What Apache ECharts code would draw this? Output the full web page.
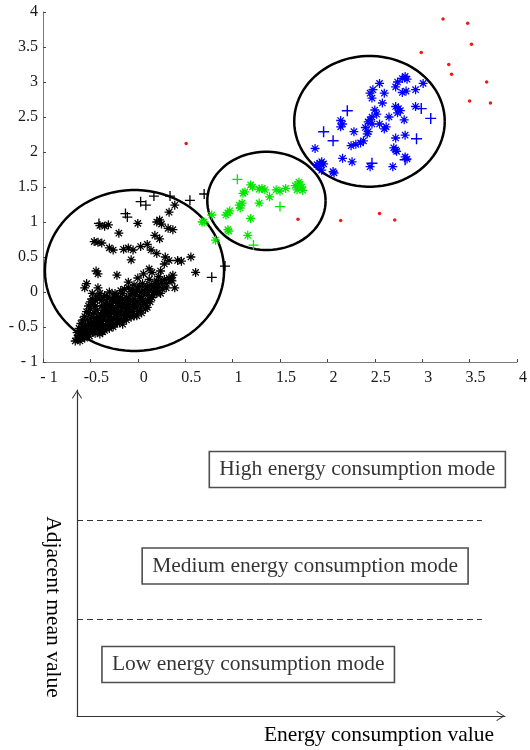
<!DOCTYPE html>
<html lang="en">
<head>
<meta charset="UTF-8" />
<title>energy consumption modes</title>
<script src="https://cdn.jsdelivr.net/npm/echarts@6/dist/echarts.min.js"></script>
<style>
  * { margin: 0; padding: 0; }
  body { background: #fff; }
</style>
</head>
<body>
<div id="main" style="width:530px;height:750px"></div>
<script>
// ---- scatter data ----
var xTickLabels = ["- 1", "-0.5", "0", "0.5", "1", "1.5", "2", "2.5", "3", "3.5", "4"]
var yTickLabels = ["- 1", "- 0.5", "0", "0.5", "1", "1.5", "2", "2.5", "3", "3.5", "4"]

var blackStar = [
  [-0.66,-0.70],[-0.63,-0.68],[-0.60,-0.66],[-0.62,-0.62],[-0.58,-0.64],[-0.55,-0.62],[-0.57,-0.58],[-0.53,-0.60],
  [-0.50,-0.58],[-0.52,-0.54],[-0.58,-0.50],[-0.55,-0.47],[-0.48,-0.52],[-0.46,-0.56],[-0.44,-0.50],[-0.50,-0.45],
  [-0.47,-0.42],[-0.42,-0.47],[-0.40,-0.52],[-0.38,-0.45],[-0.44,-0.38],[-0.41,-0.35],[-0.36,-0.40],[-0.34,-0.48],
  [-0.32,-0.42],[-0.30,-0.36],[-0.37,-0.30],[-0.33,-0.26],[-0.28,-0.30],[-0.26,-0.38],[-0.24,-0.32],[-0.22,-0.26],
  [-0.28,-0.20],[-0.20,-0.20],[-0.18,-0.28],[-0.16,-0.22],[-0.14,-0.16],[-0.20,-0.12],[-0.12,-0.24],[-0.10,-0.18],
  [-0.08,-0.12],[-0.12,-0.08],[-0.06,-0.20],[-0.04,-0.10],[-0.02,-0.04],[-0.06,-0.02],[0.00,-0.14],[0.02,-0.06],
  [0.04,0.00],[0.00,0.04],[0.06,-0.02],[0.08,0.04],[0.10,0.08],[0.12,0.02],[0.14,0.10],[0.16,0.06],
  [0.18,0.12],[0.20,0.16],[0.22,0.10],[0.25,0.14],[0.28,0.18],[0.30,0.12],[0.33,0.20],[0.36,0.16],
  [-0.45,-0.20],[-0.40,-0.10],[-0.35,-0.05],[-0.48,-0.02],[-0.42,0.06],[-0.30,0.00],[-0.25,-0.06],[-0.18,0.02],
  [-0.10,0.06],[-0.52,-0.30],[-0.60,-0.55],[-0.64,-0.58],[-0.35,-0.55],[-0.28,-0.48],[-0.20,-0.40],[-0.14,-0.36],
  [-0.08,-0.30],[0.00,-0.28],[0.06,-0.18],[0.12,-0.10],[0.20,-0.02],[0.26,0.04],[-0.22,-0.44],[-0.16,-0.10],
  [-0.04,0.10],[0.05,0.12],[0.12,0.18],[0.22,0.22],
  [-0.64,-0.66],[-0.61,-0.70],[-0.59,-0.60],[-0.56,-0.66],[-0.54,-0.56],[-0.51,-0.63],[-0.49,-0.55],[-0.47,-0.48],
  [-0.45,-0.59],[-0.43,-0.54],[-0.41,-0.43],[-0.39,-0.56],[-0.37,-0.50],[-0.35,-0.36],[-0.33,-0.52],[-0.31,-0.46],
  [-0.29,-0.40],[-0.27,-0.44],[-0.25,-0.28],[-0.23,-0.38],[-0.21,-0.34],[-0.19,-0.44],[-0.17,-0.32],[-0.15,-0.40],
  [-0.13,-0.30],[-0.11,-0.34],[-0.09,-0.24],[-0.07,-0.36],[-0.05,-0.28],[-0.03,-0.22],[-0.01,-0.34],[0.03,-0.24],
  [0.05,-0.12],[0.09,-0.16],[0.11,-0.04],[0.15,-0.08],[0.17,0.00],[0.21,0.04],[0.24,-0.02],[0.30,0.06],
  [-0.53,-0.40],[-0.49,-0.36],[-0.46,-0.30],[-0.43,-0.26],[-0.38,-0.20],[-0.33,-0.14],[-0.27,-0.10],[-0.22,-0.06],
  [-0.62,-0.52],[-0.60,-0.45],[-0.58,-0.40],[-0.56,-0.35],[-0.54,-0.28],[-0.52,-0.20],[-0.50,-0.14],[-0.48,-0.10],
  [-0.50,-0.24],[-0.47,-0.18],[-0.45,-0.12],[-0.43,-0.06],[-0.40,-0.02],[-0.38,-0.12],[-0.36,-0.24],[-0.34,-0.32],
  [-0.32,-0.08],[-0.30,-0.18],[-0.28,-0.26],[-0.26,-0.14],[-0.24,-0.02],[-0.22,-0.16],[-0.20,-0.28],[-0.18,-0.08],
  [-0.16,-0.02],[-0.14,0.04],[-0.12,-0.12],[-0.10,-0.26],[-0.08,-0.04],[-0.06,0.04],[-0.04,-0.16],[-0.02,0.00],
  [0.00,-0.20],[0.02,0.08],[0.04,-0.10],[0.07,0.00],[0.10,-0.22],[0.13,-0.14],[0.16,-0.04],[0.19,0.06],
  [-0.40,-0.60],[-0.37,-0.57],[-0.30,-0.52],[-0.26,-0.50],[-0.24,-0.46],[-0.16,-0.46],[-0.12,-0.40],[-0.04,-0.34],
  [0.04,-0.30],[0.08,-0.24],[-0.56,-0.52],[-0.52,-0.48],[-0.46,-0.44],[-0.42,-0.40],[-0.39,-0.33],[-0.34,-0.20],
  [-0.31,-0.28],[-0.26,-0.22],[-0.18,-0.16],[-0.13,-0.20],
  // scattered upper part
  [-0.35,0.94],[-0.40,0.95],[-0.31,0.96],[-0.20,0.84],[0.00,0.98],[0.20,1.00],[0.23,1.03],[0.25,0.97],
  [0.33,1.14],[0.39,1.24],[0.32,0.91],[0.37,0.89],[0.18,0.81],[0.23,0.76],[-0.46,0.72],[-0.42,0.71],
  [-0.38,0.70],[-0.30,0.63],[-0.26,0.60],[-0.15,0.61],[-0.10,0.63],[-0.05,0.60],[-0.07,0.46],[0.03,0.65],
  [0.10,0.68],[0.14,0.60],[0.20,0.55],[0.29,0.50],[0.33,0.45],[0.42,0.45],[0.46,0.44],[0.56,0.50],
  [0.61,0.28],[0.37,0.24],[0.35,0.17],[0.39,0.06],[-0.44,0.30],[-0.42,0.26],[-0.22,0.24],[0.12,0.33],
  [0.15,0.28],[-0.54,0.12],[-0.56,0.06],[-0.10,0.14],[0.24,0.30],[0.28,0.40],[0.06,0.26],[0.00,0.20]
]
var blackPlus = [
  [0.03,1.29],[0.085,1.24],[0.17,1.37],[0.34,1.37],[0.55,1.31],[0.70,1.40],
  [-0.13,1.12],[-0.11,1.07],[-0.41,0.98],[0.92,0.37],[0.78,0.21]
]
var greenStar = [
  [1.19,1.53],[1.21,1.50],[1.11,1.41],[1.13,1.43],[1.28,1.47],[1.31,1.48],[1.34,1.46],[1.46,1.46],
  [1.50,1.44],[1.56,1.48],[1.66,1.52],[1.70,1.57],[1.73,1.50],[1.68,1.46],[1.74,1.45],[1.71,1.54],
  [1.39,1.36],[1.28,1.27],[1.07,1.24],[1.10,1.27],[1.08,1.20],[0.95,1.13],[0.93,1.10],[0.97,1.16],
  [1.19,1.05],[0.78,1.10],[0.70,1.00],[0.95,0.89],[0.96,0.87],[1.16,0.81],[0.82,0.74],[0.68,1.00]
]
var greenPlus = [[1.05,1.61],[1.50,1.22],[1.22,0.67]]
var blueStar = [
  [2.82,3.08],[2.84,3.04],[2.79,3.05],[2.74,3.00],[2.72,2.93],[2.55,2.98],[2.48,2.89],[2.45,2.84],
  [2.47,2.77],[2.60,2.84],[2.79,2.85],[2.83,2.87],[2.93,2.89],[3.01,2.98],[2.72,2.65],[2.75,2.62],
  [2.93,2.65],[2.74,2.56],[2.77,2.59],[2.81,2.46],[2.52,2.54],[2.47,2.50],[2.45,2.46],[2.43,2.43],
  [2.47,2.40],[2.62,2.36],[2.60,2.33],[2.14,2.45],[2.16,2.40],[2.14,2.36],[2.28,2.29],[2.43,2.29],
  [2.42,2.26],[2.38,2.16],[2.35,2.13],[2.30,2.11],[2.25,2.09],[2.72,2.20],[2.82,2.24],[2.70,2.06],
  [2.72,2.03],[2.73,2.01],[1.87,2.05],[1.94,1.86],[1.92,1.84],[1.96,1.83],[1.89,1.82],[1.91,1.79],
  [2.16,1.91],[2.26,1.86],[2.07,1.70],[2.45,1.79],[2.69,1.79],[2.82,1.93],[2.84,1.90],[1.94,1.74],
  [2.06,1.72],[2.40,2.35],[2.50,2.60],[2.58,2.70],[2.65,2.50],[2.55,2.40]
]
var bluePlus = [[2.21,2.59],[1.96,2.29],[2.06,2.16],[3.09,2.48],[2.99,2.62],[2.94,2.19],[2.82,1.89],[2.47,1.84]]
var redDots = [
  [3.22,3.90],[3.48,3.84],[3.52,3.54],[2.99,3.42],[3.28,3.25],[3.31,3.11],[3.68,3.00],[3.50,2.73],
  [3.72,2.70],[0.51,2.12],[1.69,1.04],[2.14,1.02],[2.55,1.12],[2.71,1.03]
]
// cluster circles: [centre x, centre y, radius x, radius y]
var clusterEllipses = [
  [-0.035, 0.307, 0.945, 1.15],
  [1.357, 1.302, 0.624, 0.702],
  [2.444, 2.438, 0.794, 0.934]
]

// ---- mode diagram (axes run 0..100) ----
var modeNames = ["High energy consumption mode", "Medium energy consumption mode", "Low energy consumption mode"]
var modeCenters = [[65.5, 75.6], [53.3, 46.0], [40.0, 15.8]]
var modeBounds = [60.1, 29.8]
var modeLineEnd = 94.6

var serif = "Liberation Serif"
var starPath = "path://M0 8.6L20 8.6L20 11.4L0 11.4ZM8.6 0L11.4 0L11.4 20L8.6 20ZM2 4L4 2L18 16L16 18ZM16 2L18 4L4 18L2 16Z"
var plusPath = "path://M0 8.7L20 8.7L20 11.3L0 11.3ZM8.7 0L11.3 0L11.3 20L8.7 20Z"
var arrowPath = "path://M10 0L20 15.6L18.6 16.8L10 3.4L1.4 16.8L0 15.6Z"

function pts(name, data, symbol, size, color) {
  return {
    name: name, type: "scatter", xAxisIndex: 0, yAxisIndex: 0,
    data: data, symbol: symbol, symbolSize: size,
    itemStyle: { color: color, opacity: 1 }, z: 4
  }
}

var myChart = echarts.init(document.getElementById("main"))
var option = {
  animation: false,
  backgroundColor: "#fff",
  grid: [
    { left: 43, top: 12, width: 490, height: 350 },
    { left: 77, top: 390, width: 428, height: 326 }
  ],
  xAxis: [
    {
      gridIndex: 0, type: "value", min: -1, max: 4, interval: 0.5,
      axisLine: { onZero: false, lineStyle: { color: "#7a7a7a", width: 1 } },
      axisTick: { inside: true, length: 3, lineStyle: { color: "#444" } },
      axisLabel: {
        fontFamily: serif, fontSize: 16, color: "#1a1a1a", margin: 8, padding: [0, 0, 0, 12],
        formatter: function (v, i) { return xTickLabels[i] }
      },
      splitLine: { show: false }
    },
    {
      gridIndex: 1, type: "value", min: 0, max: 100,
      axisLine: {
        onZero: false, lineStyle: { color: "#333", width: 1.2 },
        symbol: ["none", arrowPath], symbolSize: [10, 9], symbolOffset: [0, -4.5]
      },
      axisTick: { show: false }, axisLabel: { show: false }, splitLine: { show: false }
    }
  ],
  yAxis: [
    {
      gridIndex: 0, type: "value", min: -1, max: 4, interval: 0.5,
      axisLine: { show: true, onZero: false, lineStyle: { color: "#7a7a7a", width: 1 } },
      axisTick: { show: true, inside: true, length: 3, lineStyle: { color: "#444" } },
      axisLabel: {
        fontFamily: serif, fontSize: 16, color: "#1a1a1a", margin: 5,
        formatter: function (v, i) { return yTickLabels[i] }
      },
      splitLine: { show: false }
    },
    {
      gridIndex: 1, type: "value", min: 0, max: 100,
      axisLine: {
        show: true, onZero: false, lineStyle: { color: "#333", width: 1.2 },
        symbol: ["none", arrowPath], symbolSize: [10, 9], symbolOffset: [0, -4.5]
      },
      axisTick: { show: false }, axisLabel: { show: false }, splitLine: { show: false }
    }
  ],
  series: [
    {
      type: "custom", xAxisIndex: 0, yAxisIndex: 0, z: 3,
      data: clusterEllipses,
      encode: { x: 0, y: 1 },
      renderItem: function (params, api) {
        var cx = api.value(0), cy = api.value(1), rx = api.value(2), ry = api.value(3)
        var ring = []
        for (var k = 0; k <= 90; k++) {
          var t = k / 90 * Math.PI * 2
          ring.push(api.coord([cx + rx * Math.cos(t), cy + ry * Math.sin(t)]))
        }
        return { type: "polyline", shape: { points: ring }, style: { fill: null, stroke: "#000", lineWidth: 2.5 } }
      }
    },
    pts("black *", blackStar, starPath, 9, "#000"),
    pts("black +", blackPlus, plusPath, 10, "#000"),
    pts("green *", greenStar, starPath, 9, "#00e600"),
    pts("green +", greenPlus, plusPath, 10, "#00e600"),
    pts("blue *", blueStar, starPath, 9, "#0000ff"),
    pts("blue +", bluePlus, plusPath, 11, "#0000ff"),
    pts("red", redDots, "circle", 3.5, "#f01818"),
    {
      type: "scatter", xAxisIndex: 1, yAxisIndex: 1,
      symbolSize: 1, itemStyle: { color: "transparent" },
      data: modeNames.map(function (n, i) { return { name: n, value: modeCenters[i] } }),
      label: {
        show: true, position: "inside", formatter: "{b}",
        fontFamily: serif, fontSize: 21.5, color: "#000", lineHeight: 24,
        borderColor: "#222", borderWidth: 1.6, padding: [6, 10, 6, 10]
      },
      markLine: {
        silent: true, symbol: "none", label: { show: false },
        lineStyle: { type: [6, 4], color: "#333", width: 1 },
        data: modeBounds.map(function (v) { return [{ coord: [0, v] }, { coord: [modeLineEnd, v] }] })
      }
    }
  ],
  graphic: [
    {
      type: "text", x: 53, y: 607, rotation: -Math.PI / 2,
      style: { text: "Adjacent mean value", font: "21.5px 'Liberation Serif'", fill: "#000", align: "center", verticalAlign: "middle" }
    },
    {
      type: "text", x: 494, y: 735,
      style: { text: "Energy consumption value", font: "21.5px 'Liberation Serif'", fill: "#000", align: "right", verticalAlign: "middle" }
    }
  ]
}
myChart.setOption(option)
</script>
</body>
</html>
